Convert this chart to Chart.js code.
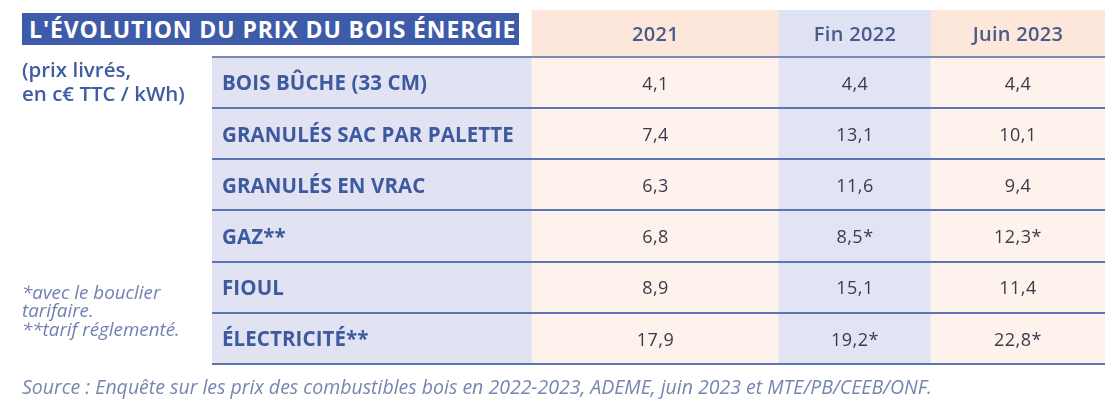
<!DOCTYPE html>
<html lang="fr">
<head>
<meta charset="utf-8">
<script src="https://cdn.jsdelivr.net/npm/chart.js@4/dist/chart.umd.min.js"></script>
<style>
  html, body { margin: 0; padding: 0; background: #ffffff; }
  #wrap { position: relative; width: 1119px; height: 409px; overflow: hidden; font-family: "Open Sans", "Noto Sans", sans-serif; }
  #chart { position: absolute; left: 0; top: 0; }
  .title { position: absolute; left: 22px; top: 13px; width: 497px; height: 32px; background: #3d5ba8; color: #ffffff;
           font-weight: 700; font-size: 23px; line-height: 32px; padding-left: 7px; box-sizing: border-box; white-space: nowrap; letter-spacing: 0.9px; }
  .unit { position: absolute; left: 22px; top: 57px; color: #3f5ca5; font-weight: 600; font-size: 20.5px; line-height: 24px; white-space: nowrap; }
  .notes { position: absolute; left: 22px; top: 283px; color: #7080b2; font-style: italic; font-size: 18.8px; line-height: 18.3px; white-space: nowrap; }
  .source { position: absolute; left: 22px; top: 374px; color: #7785b0; font-style: italic; font-size: 19.5px; line-height: 26px; white-space: nowrap; }
</style>
</head>
<body>
<div id="wrap">
  <canvas id="chart" width="1119" height="409"></canvas>
  <div class="title">L'ÉVOLUTION DU PRIX DU BOIS ÉNERGIE</div>
  <div class="unit">(prix livrés,<br>en c€ TTC / kWh)</div>
  <div class="notes">*avec le bouclier<br>tarifaire.<br>**tarif réglementé.</div>
  <div class="source">Source : Enquête sur les prix des combustibles bois en 2022-2023, ADEME, juin 2023 et MTE/PB/CEEB/ONF.</div>
</div>
<script>
// ---- data ----
const columns = ['2021', 'Fin 2022', 'Juin 2023'];
const categories = ['BOIS BÛCHE (33 CM)', 'GRANULÉS SAC PAR PALETTE', 'GRANULÉS EN VRAC', 'GAZ**', 'FIOUL', 'ÉLECTRICITÉ**'];
const values2021 = [4.1, 7.4, 6.3, 6.8, 8.9, 17.9];
const valuesFin2022 = [4.4, 13.1, 11.6, 8.5, 15.1, 19.2];
const valuesJuin2023 = [4.4, 10.1, 9.4, 12.3, 11.4, 22.8];
// '*' = avec le bouclier tarifaire
const notesFin2022 = ['', '', '', '*', '', '*'];
const notesJuin2023 = ['', '', '', '*', '', '*'];

// ---- layout / style (not data) ----
const colWidths = [320, 247, 152, 174];     // label column + 3 value columns (scale units)
const headerHeight = 47;
const rowHeight = 51.2;
const headerColors = ['#fde7da', '#dfe2f3', '#fde7da'];
const bodyColors = ['#e1e3f3', '#fef3ec', '#e2e4f4', '#fef3ec'];
const lineColor = '#5d75b4';

const colEdges = [0];
colWidths.forEach(w => colEdges.push(colEdges[colEdges.length - 1] + w));
const rowEdges = [0, headerHeight];
categories.forEach(() => rowEdges.push(rowEdges[rowEdges.length - 1] + rowHeight));
const totalW = colEdges[colEdges.length - 1];
const totalH = rowEdges[rowEdges.length - 1];

const valueCols = [values2021, valuesFin2022, valuesJuin2023];
const noteCols = [['', '', '', '', '', ''], notesFin2022, notesJuin2023];
const fmt = v => v.toFixed(1).replace('.', ',');

const headerData = columns.map((c, i) => ({ x: [colEdges[i + 1], colEdges[i + 2]], y: headerHeight / 2, col: i }));
const bodyData = [];
categories.forEach((cat, r) => {
  for (let c = 0; c < 4; c++) {
    bodyData.push({ x: [colEdges[c], colEdges[c + 1]], y: rowEdges[r + 1] + rowHeight / 2, col: c, row: r });
  }
});

const textPlugin = {
  id: 'tableText',
  afterDraw(chart) {
    const { ctx, scales: { x, y } } = chart;
    ctx.save();
    ctx.textBaseline = 'middle';
    // header
    ctx.textAlign = 'center';
    ctx.fillStyle = '#4b5a8c';
    ctx.font = '600 20px "Open Sans", sans-serif';
    ctx.letterSpacing = '0.3px';
    columns.forEach((c, i) => {
      const cx = (x.getPixelForValue(colEdges[i + 1]) + x.getPixelForValue(colEdges[i + 2])) / 2;
      ctx.fillText(c, cx, y.getPixelForValue(headerHeight / 2) + 2);
    });
    // rows
    categories.forEach((cat, r) => {
      const cy = y.getPixelForValue(rowEdges[r + 1] + rowHeight / 2) + 2;
      ctx.textAlign = 'left';
      ctx.fillStyle = '#3e5a9e';
      ctx.font = '700 20.5px "Open Sans", sans-serif';
      ctx.letterSpacing = '0.1px';
      ctx.fillText(cat, x.getPixelForValue(colEdges[0]) + 10, cy);
      ctx.textAlign = 'center';
      ctx.fillStyle = '#3a3a4a';
      ctx.font = '400 18px "Open Sans", sans-serif';
      ctx.letterSpacing = '0.5px';
      valueCols.forEach((vals, i) => {
        const cx = (x.getPixelForValue(colEdges[i + 1]) + x.getPixelForValue(colEdges[i + 2])) / 2;
        ctx.fillText(fmt(vals[r]) + noteCols[i][r], cx, cy);
      });
    });
    ctx.restore();
  }
};

new Chart(document.getElementById('chart'), {
  type: 'bar',
  data: {
    datasets: [
      { data: headerData, backgroundColor: ctx => headerColors[ctx.raw ? ctx.raw.col : 0], barThickness: headerHeight, stack: 'table', borderWidth: 0 },
      { data: bodyData, backgroundColor: ctx => bodyColors[ctx.raw ? ctx.raw.col : 0], barThickness: rowHeight + 0.5, stack: 'table', borderWidth: 0 }
    ]
  },
  options: {
    indexAxis: 'y',
    responsive: false,
    animation: false,
    events: [],
    layout: { padding: { left: 212, right: 14, top: 10, bottom: 45 } },
    plugins: { legend: { display: false }, tooltip: { enabled: false }, title: { display: false } },
    scales: {
      x: { type: 'linear', min: 0, max: totalW, stacked: false, display: false, offset: false },
      y: {
        type: 'linear', min: 0, max: totalH, reverse: true, offset: false,
        afterBuildTicks: s => { s.ticks = rowEdges.map(v => ({ value: v })); },
        afterFit: s => { s.width = 0; },
        ticks: { display: false },
        border: { display: false },
        grid: {
          z: 1, offset: false, drawTicks: false, lineWidth: 2,
          color: c => (c.tick && c.tick.value === 0) ? 'rgba(0,0,0,0)' : (c.tick && c.tick.value === headerHeight ? '#7b89b8' : lineColor)
        }
      }
    }
  },
  plugins: [textPlugin]
});
</script>
</body>
</html>
